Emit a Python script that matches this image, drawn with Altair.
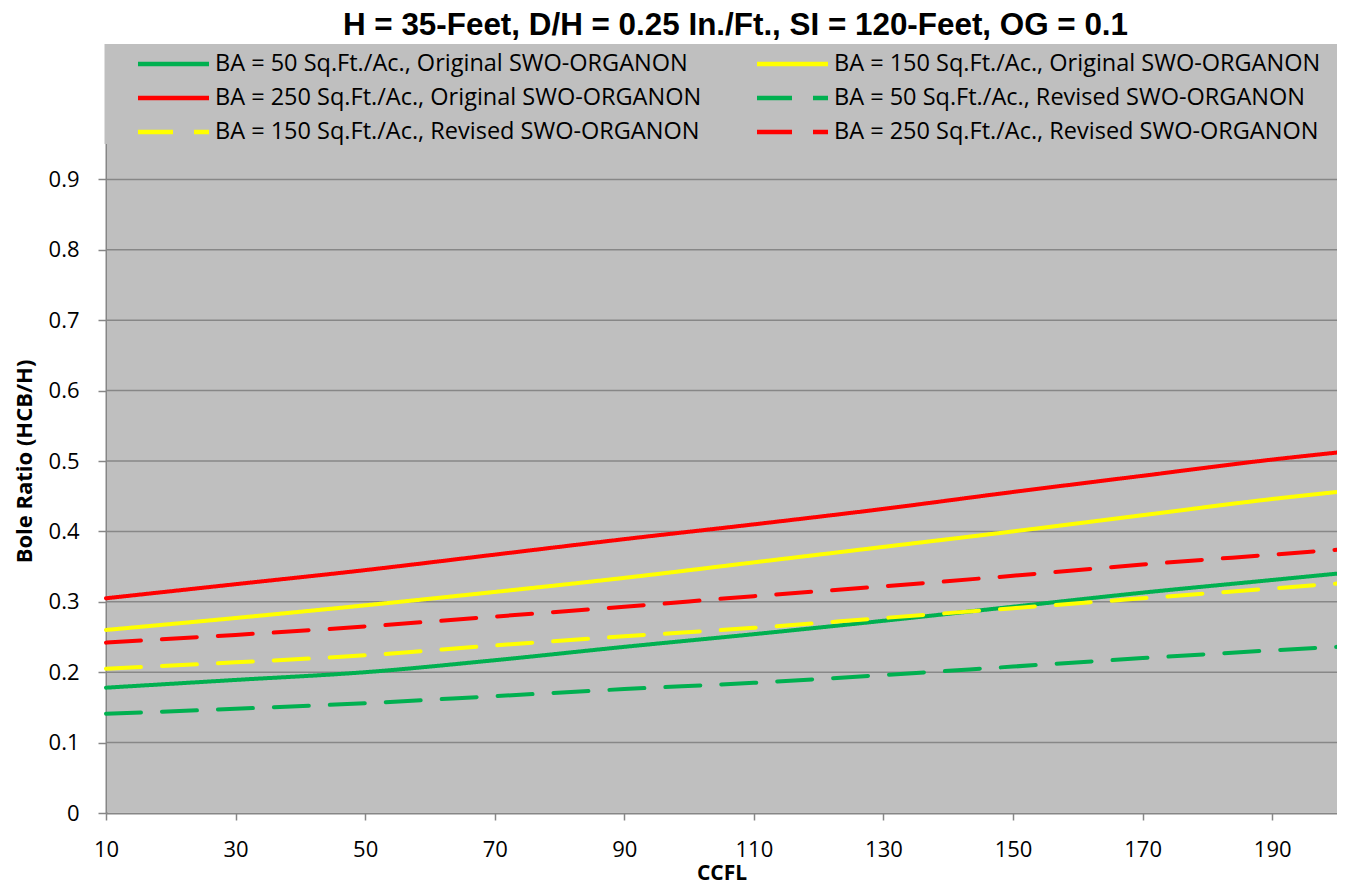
import altair as alt
import pandas as pd

ccfl = [10, 30, 50, 70, 90, 110, 130, 150, 170, 190, 200]

series_names = [
    "BA = 50 Sq.Ft./Ac., Original SWO-ORGANON",
    "BA = 150 Sq.Ft./Ac., Original SWO-ORGANON",
    "BA = 250 Sq.Ft./Ac., Original SWO-ORGANON",
    "BA = 50 Sq.Ft./Ac., Revised SWO-ORGANON",
    "BA = 150 Sq.Ft./Ac., Revised SWO-ORGANON",
    "BA = 250 Sq.Ft./Ac., Revised SWO-ORGANON",
]

ba50_orig = [0.178, 0.189, 0.200, 0.217, 0.236, 0.254, 0.273, 0.293, 0.313, 0.331, 0.340]
ba150_orig = [0.260, 0.277, 0.295, 0.314, 0.334, 0.356, 0.378, 0.400, 0.423, 0.446, 0.456]
ba250_orig = [0.305, 0.325, 0.345, 0.367, 0.389, 0.410, 0.432, 0.456, 0.479, 0.502, 0.512]
ba50_rev = [0.141, 0.148, 0.156, 0.166, 0.176, 0.185, 0.196, 0.208, 0.220, 0.231, 0.236]
ba150_rev = [0.205, 0.214, 0.224, 0.238, 0.251, 0.263, 0.277, 0.291, 0.305, 0.319, 0.326]
ba250_rev = [0.242, 0.253, 0.265, 0.279, 0.293, 0.308, 0.322, 0.337, 0.353, 0.367, 0.374]

series_values = [ba50_orig, ba150_orig, ba250_orig, ba50_rev, ba150_rev, ba250_rev]
series_colors = ["#00B050", "#FFFF00", "#FF0000", "#00B050", "#FFFF00", "#FF0000"]
series_dashes = [[1, 0], [1, 0], [1, 0], [35, 21], [35, 21], [35, 21]]

# legend order (column-major fill of a 2-column legend gives the reference's row order)
legend_order = [0, 2, 4, 1, 3, 5]

x_ticks = [10, 30, 50, 70, 90, 110, 130, 150, 170, 190]
y_ticks = [0, 0.1, 0.2, 0.3, 0.4, 0.5, 0.6, 0.7, 0.8, 0.9]
grid_values = [0.1, 0.2, 0.3, 0.4, 0.5, 0.6, 0.7, 0.8, 0.9]

rows = []
for name, vals in zip(series_names, series_values):
    for xv, yv in zip(ccfl, vals):
        rows.append({"CCFL": xv, "ratio": yv, "series": name})
df = pd.DataFrame(rows)

dom = [series_names[i] for i in legend_order]
col_range = [series_colors[i] for i in legend_order]
dash_range = [series_dashes[i] for i in legend_order]

PLOT_W = 1231
PLOT_H = 704
GRAY = "#BFBFBF"

leg = dict(title=None, orient="none", legendX=29.5, legendY=-57,
           columns=2, columnPadding=53, rowPadding=10, clipHeight=24,
           symbolType="stroke", symbolSize=5041, symbolStrokeWidth=4.5,
           labelFont="Open Sans", labelFontSize=23.5, labelColor="black",
           labelOffset=3.5, labelLimit=700, padding=0)

y_scale = alt.Scale(domain=[0, 1], nice=False)

plot_bg = alt.Chart(pd.DataFrame({"k": [0]})).mark_rect(color=GRAY).encode(
    x=alt.value(1), x2=alt.value(PLOT_W),
    y=alt.value(0), y2=alt.value(PLOT_H - 1),
)

grid = alt.Chart(pd.DataFrame({"ratio": grid_values})).mark_rule(
    color="#878787", strokeWidth=1.5
).encode(
    y=alt.Y("ratio:Q", scale=y_scale),
    x=alt.value(1), x2=alt.value(PLOT_W),
)

legend_box = alt.Chart(pd.DataFrame({"k": [0]})).mark_rect(color=GRAY).encode(
    x=alt.value(-1.5), x2=alt.value(PLOT_W + 10),
    y=alt.value(-65), y2=alt.value(35),
)

lines = alt.Chart(df).mark_line(strokeWidth=4, interpolate="monotone",
                                strokeCap="round").encode(
    x=alt.X("CCFL:Q",
            scale=alt.Scale(domain=[10, 200], nice=False, zero=False),
            axis=alt.Axis(values=x_ticks, title="CCFL", grid=False, labelFlush=False,
                          titleFont="Open Sans", titleFontSize=21, titleFontWeight="bold",
                          titleColor="black", titlePadding=2,
                          labelFont="Open Sans", labelFontSize=22, labelColor="black",
                          labelPadding=19, tickSize=7, tickColor="#868686",
                          domainColor="#868686", domainWidth=2, tickWidth=1.5)),
    y=alt.Y("ratio:Q", scale=y_scale,
            axis=alt.Axis(values=y_ticks, format="~g", title="Bole Ratio (HCB/H)",
                          titleFont="Open Sans", titleFontSize=22, titleFontWeight="bold",
                          titleColor="black", titlePadding=12,
                          labelFont="Open Sans", labelFontSize=22, labelColor="black",
                          labelPadding=19, tickSize=8, tickColor="#868686",
                          domainColor="#868686", domainWidth=2, tickWidth=1.5,
                          grid=False)),
    color=alt.Color("series:N",
                    scale=alt.Scale(domain=dom, range=col_range),
                    legend=alt.Legend(**leg)),
    strokeDash=alt.StrokeDash("series:N",
                              scale=alt.Scale(domain=dom, range=dash_range),
                              legend=alt.Legend(**leg)),
)

chart = alt.layer(plot_bg, grid, legend_box, lines).properties(
    width=PLOT_W, height=PLOT_H,
    title=alt.TitleParams("H = 35-Feet, D/H = 0.25 In./Ft., SI = 120-Feet, OG = 0.1",
                          font="Liberation Sans", fontSize=31.4, fontWeight="bold",
                          color="black", anchor="middle", dx=14, offset=3),
    autosize=alt.AutoSizeParams(type="none"),
    padding={"left": 98, "top": 101, "right": 0, "bottom": 71},
).configure_view(fill=GRAY, stroke=None).configure(background="white")

chart.save("out.html", embed_options={"renderer": "svg", "actions": False})
